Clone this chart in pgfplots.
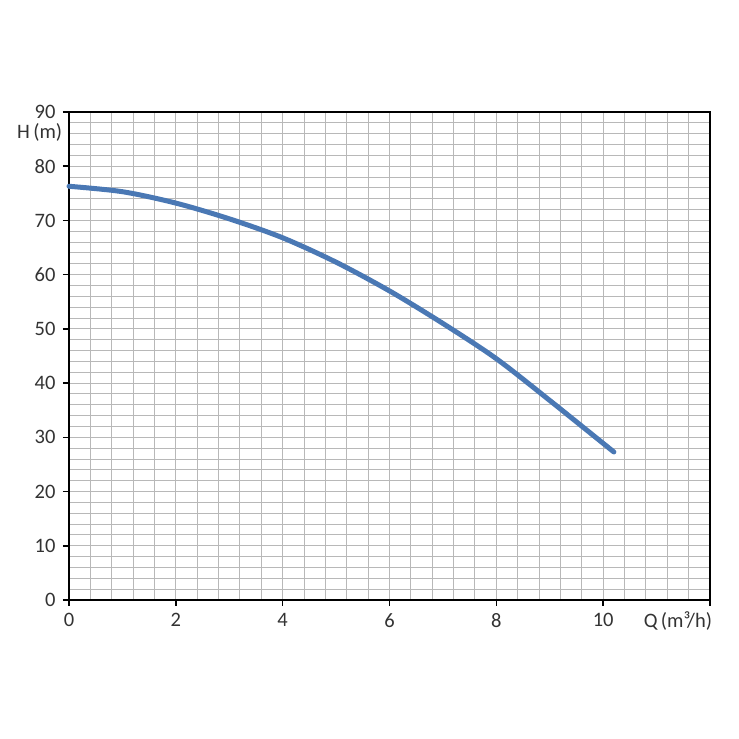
\documentclass[border=0pt]{standalone}
\usepackage{fontspec}
\setmainfont{Carlito}
\usepackage{pgfplots}
\pgfplotsset{compat=1.18}
\definecolor{curveblue}{HTML}{4A78B4}
\definecolor{gridgray}{HTML}{B8B8B8}

\begin{document}
\begin{tikzpicture}
\useasboundingbox (0,0) rectangle (739pt,739pt);
\begin{axis}[
    at={(69pt,139pt)}, anchor=south west,
    scale only axis,
    width=641pt, height=488pt,
    xmin=0, xmax=12, ymin=0, ymax=90,
    xtick={0,2,...,12},
    xticklabels={0,2,4,6,8,10,},
    ytick={0,10,...,90},
    minor x tick num=4,
    minor y tick num=4,
    grid=both,
    grid style={gridgray, line width=1pt},
    minor grid style={gridgray, line width=1pt},
    axis line style={black, line width=2.2pt},
    tick pos=left,
    tick align=outside,
    major tick length=6pt,
    minor tick length=0pt,
    every tick/.style={black, line width=1.5pt},
    /pgf/number format/assume math mode=true,
    ticklabel style={font=\fontsize{20.5}{24}\selectfont, text=black!80},
    xticklabel style={yshift=-4pt},
    yticklabel style={xshift=-4pt},
    clip=false,
]
\addplot[curveblue, line width=5pt, smooth, line cap=round] coordinates {
    (0,76.3) (1,75.3) (2,73.2) (3,70.3) (4,66.8) (5,62.3)
    (6,57.0) (7,51.0) (8,44.5) (9,36.8) (10.2,27.3)
};
\node[font=\fontsize{20.5}{24}\selectfont, text=black!80] at (axis cs:-0.55,86.2) {H\,(m)};
\node[font=\fontsize{20.5}{24}\selectfont, text=black!80] at (axis cs:11.4,-3.9) {Q\,(m³/h)};
\end{axis}
\end{tikzpicture}
\end{document}
